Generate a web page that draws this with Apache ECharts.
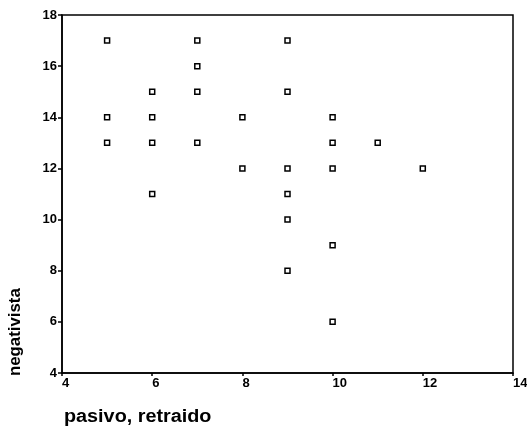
<!DOCTYPE html>
<html>
<head>
<meta charset="utf-8">
<script src="https://cdn.jsdelivr.net/npm/echarts@6/dist/echarts.min.js"></script>
<style>html,body{margin:0;padding:0;background:#fff;}#c{width:527px;height:435px;}</style>
</head>
<body>
<div id="c"></div>
<script>
const xTitle = 'pasivo, retraido';
const yTitle = 'negativista';
const pasivo =      [5, 5, 5, 6, 6, 6, 6, 7, 7, 7, 7, 8, 8, 9, 9, 9, 9, 9, 9, 10, 10, 10, 10, 10, 11, 12];
const negativista = [17,14,13,15,14,13,11,17,16,15,13,14,12,17,15,12,11,10, 8, 14, 13, 12,  9,  6, 13, 12];
const xTicks = [4, 6, 8, 10, 12, 14];
const yTicks = [4, 6, 8, 10, 12, 14, 16, 18];

const pts = pasivo.map((x, i) => [x, negativista[i]]);
const font = '"Liberation Sans", Arial, sans-serif';
const chart = echarts.init(document.getElementById('c'));
chart.setOption({
  animation: false,
  backgroundColor: '#fff',
  grid: { left: 62, top: 15, right: 14, bottom: 62, outerBoundsMode: 'none', containLabel: false, show: true, borderColor: '#000', borderWidth: 1.5, backgroundColor: 'transparent' },
  xAxis: {
    type: 'value', min: xTicks[0], max: xTicks[xTicks.length - 1], interval: 2,
    axisLine: { show: true, lineStyle: { color: '#000', width: 1.5 } },
    axisTick: { show: true, length: 3, lineStyle: { color: '#000', width: 1.5 } },
    axisLabel: { color: '#000', fontFamily: font, fontWeight: 'bold', fontSize: 13, margin: 4, align: 'left' },
    splitLine: { show: false }
  },
  yAxis: {
    type: 'value', min: yTicks[0], max: yTicks[yTicks.length - 1], interval: 2,
    axisLine: { show: true, lineStyle: { color: '#000', width: 1.5 } },
    axisTick: { show: true, length: 4, lineStyle: { color: '#000', width: 1.5 } },
    axisLabel: { color: '#000', fontFamily: font, fontWeight: 'bold', fontSize: 13, margin: 5, padding: [0, 0, 6, 0] },
    splitLine: { show: false }
  },
  graphic: [
    { type: 'text', left: 64, top: 408, scaleX: 1.1, style: { text: xTitle, fill: '#000', font: 'bold 18px ' + font } },
    { type: 'text', x: 8, y: 376, rotation: Math.PI / 2, scaleX: 1.05, style: { text: yTitle, fill: '#000', font: 'bold 16px ' + font, textAlign: 'left', textVerticalAlign: 'top' } }
  ],
  series: [{
    type: 'scatter',
    data: pts,
    symbol: 'rect',
    symbolSize: 5,
    itemStyle: { color: '#fff', borderColor: '#000', borderWidth: 1.5, opacity: 1 }
  }]
});
</script>
</body>
</html>
